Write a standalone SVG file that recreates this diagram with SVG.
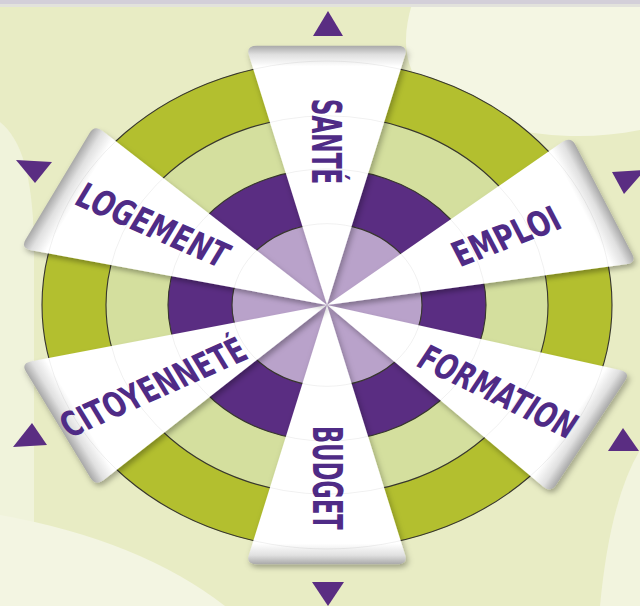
<svg xmlns="http://www.w3.org/2000/svg" width="640" height="606" viewBox="0 0 640 606">
<defs>
<style>
.ring{stroke:#3b3a30;stroke-width:1.1;vector-effect:non-scaling-stroke}
.lbl{font-family:"DejaVu Sans Condensed","DejaVu Sans","Liberation Sans",sans-serif;font-weight:bold;font-size:40px;fill:#4f2b86;text-anchor:middle}
.tri{fill:#5a2d82}
.guide{fill:none;stroke:#000;stroke-opacity:0.06;stroke-width:1;vector-effect:non-scaling-stroke}
</style>
<linearGradient id="bevel" gradientUnits="userSpaceOnUse" x1="0" y1="0" x2="303" y2="0">
<stop offset="0" stop-color="#ffffff"/>
<stop offset="0.92" stop-color="#ffffff"/>
<stop offset="0.965" stop-color="#e0e0e0"/>
<stop offset="1" stop-color="#a8a8a8"/>
</linearGradient>
<path id="wedge" d="M0,0 L292.4,-78.2 Q303,-81 303,-70 L303,70 Q303,81 292.4,78.2 Z" fill="url(#bevel)"/>
<filter id="shadow" x="-20%" y="-20%" width="140%" height="140%">
<feDropShadow dx="2" dy="4" stdDeviation="3" flood-color="#000" flood-opacity="0.3"/>
</filter>
</defs>

<g id="background">
<rect x="0" y="0" width="640" height="606" fill="#e8ecc4"/>
<path d="M412,4 C398,50 405,95 470,118 C520,135 580,142 640,130 L640,4 Z" fill="#f4f6e3"/>
<path d="M0,122 C22,140 32,175 34,240 L34,606 L0,606 Z" fill="#f0f3db"/>
<path d="M0,515 Q140,540 225,606 L0,606 Z" fill="#f3f5e2"/>
<path d="M640,450 Q610,500 600,606 L640,606 Z" fill="#f2f4de"/>
<rect x="0" y="0" width="640" height="4" fill="#d3cfd9"/>
<rect x="0" y="4" width="640" height="3" fill="#e2e2dc"/>
</g>

<g id="arrows">
<polygon class="tri" points="313,36 343,36 328,11"/>
<polygon class="tri" points="312,582 344,582 328,606"/>
<polygon class="tri" points="16,160 52,162 35,183"/>
<polygon class="tri" points="612,172 645,170 624,194"/>
<polygon class="tri" points="13,447 47,445 32,423"/>
<polygon class="tri" points="608,451 639,451 623,428"/>
</g>

<g transform="translate(327,305) scale(1,0.856)">
<g id="rings">
<circle class="ring" r="285" fill="#b3bf2f"/>
<circle class="ring" r="221" fill="#d4df9e"/>
<circle class="ring" r="159" fill="#5a2d82"/>
<circle class="ring" r="95" fill="#b9a2ca"/>
</g>

<g id="sante">
<g filter="url(#shadow)"><use href="#wedge" transform="rotate(-90)"/></g>
<text class="lbl" transform="translate(0,-191) rotate(90)" y="14.5" textLength="100" lengthAdjust="spacingAndGlyphs">SANTÉ</text>
</g>
<g id="emploi">
<g filter="url(#shadow)"><use href="#wedge" transform="rotate(-24)"/></g>
<text class="lbl" transform="translate(179,-80.6) rotate(-24)" y="14.5" textLength="114" lengthAdjust="spacingAndGlyphs">EMPLOI</text>
</g>
<g id="formation">
<g filter="url(#shadow)"><use href="#wedge" transform="rotate(29.5)"/></g>
<text class="lbl" transform="translate(171,101) rotate(29.5)" y="14.5" textLength="176" lengthAdjust="spacingAndGlyphs">FORMATION</text>
</g>
<g id="budget">
<g filter="url(#shadow)"><use href="#wedge" transform="rotate(90)"/></g>
<text class="lbl" transform="translate(1,202) rotate(90)" y="14.5" textLength="121" lengthAdjust="spacingAndGlyphs">BUDGET</text>
</g>
<g id="citoyennete">
<g filter="url(#shadow)"><use href="#wedge" transform="rotate(152.5)"/></g>
<text class="lbl" transform="translate(-174,96) rotate(-27.5)" y="14.5" textLength="204" lengthAdjust="spacingAndGlyphs">CITOYENNETÉ</text>
</g>
<g id="logement">
<g filter="url(#shadow)"><use href="#wedge" transform="rotate(207.2)"/></g>
<text class="lbl" transform="translate(-174,-93.5) rotate(27.2)" y="14.5" textLength="166" lengthAdjust="spacingAndGlyphs">LOGEMENT</text>
</g>

<g id="guides">
<circle class="guide" r="95"/>
<circle class="guide" r="159"/>
<circle class="guide" r="221"/>
<circle class="guide" r="285"/>
</g>
</g>
</svg>
